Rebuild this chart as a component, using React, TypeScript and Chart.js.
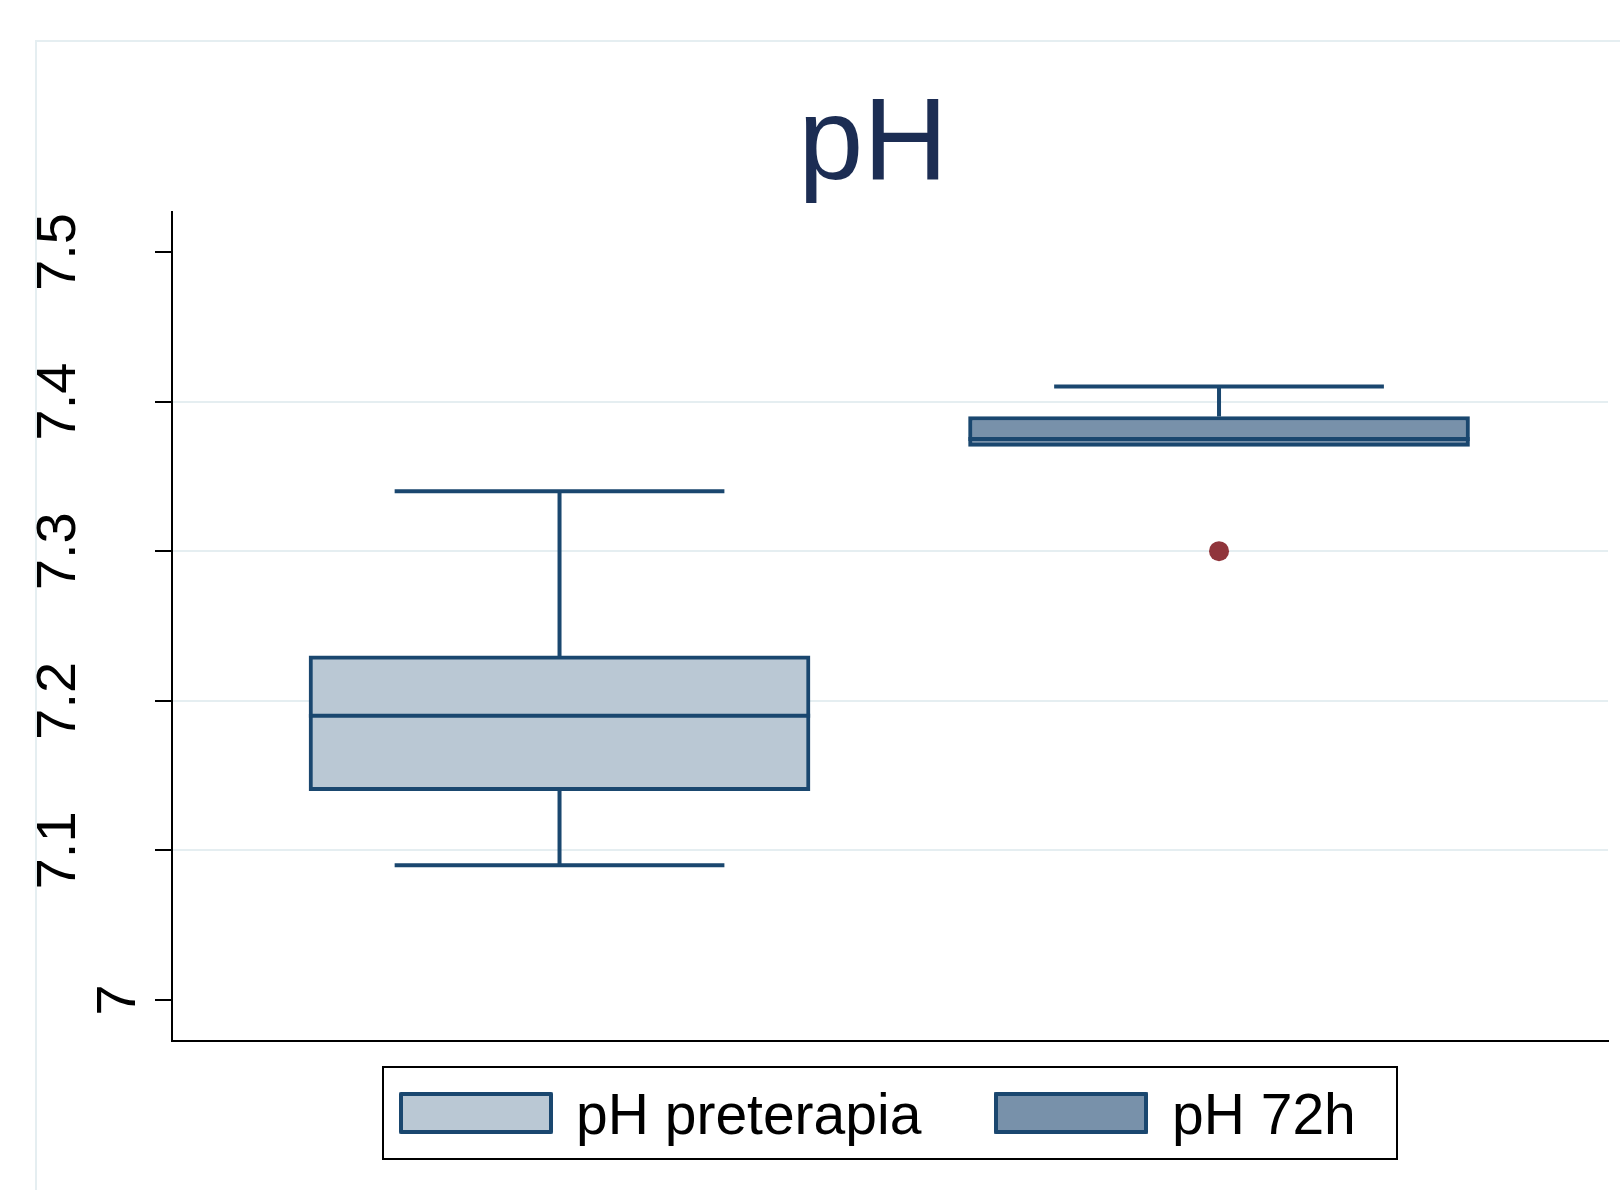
import { useEffect, useRef } from "react";
import { Chart, registerables } from "chart.js";

Chart.register(...registerables);

// ---- Data ----
const title = "pH";
const categories = ["pH preterapia", "pH 72h"];
const positions = [0, 1];
const lowerWhisker = [7.09, 7.37];
const q1 = [7.14, 7.37];
const median = [7.19, 7.375];
const q3 = [7.23, 7.39];
const upperWhisker = [7.34, 7.41];
const outlierX = [1];
const outlierY = [7.3];
const yTicks = [7, 7.1, 7.2, 7.3, 7.4, 7.5];
const yTickLabels = ["7", "7.1", "7.2", "7.3", "7.4", "7.5"];

// ---- Style ----
const NAVY = "#1a476f";
const FILLS = ["#bac8d4", "#7891aa"];
const OUTLIER = "#90353b";
const GRID = "#e5eef1";
const TITLE_COLOR = "#1c2d53";
const FONT = "'Liberation Sans', Arial, Helvetica, sans-serif";
const BOX_HALF = 0.38;
const CAP_HALF = 0.25;
const LW = 4;

function buildSegments() {
  const pts: any[] = [];
  const add = (x0: number, y0: number, x1: number, y1: number) => {
    pts.push({ x: x0, y: y0 }, { x: x1, y: y1 }, { x: x1, y: null });
  };
  positions.forEach((p, i) => {
    add(p - BOX_HALF, median[i], p + BOX_HALF, median[i]);
    if (upperWhisker[i] > q3[i]) {
      add(p, q3[i], p, upperWhisker[i]);
      add(p - CAP_HALF, upperWhisker[i], p + CAP_HALF, upperWhisker[i]);
    }
    if (lowerWhisker[i] < q1[i]) {
      add(p, q1[i], p, lowerWhisker[i]);
      add(p - CAP_HALF, lowerWhisker[i], p + CAP_HALF, lowerWhisker[i]);
    }
  });
  return pts;
}

const decorPlugin = {
  id: "stataDecor",
  beforeDraw(chart: any) {
    const ctx = chart.ctx;
    ctx.save();
    ctx.fillStyle = "#ffffff";
    ctx.fillRect(0, 0, chart.width, chart.height);
    ctx.strokeStyle = GRID;
    ctx.lineWidth = 2;
    ctx.beginPath();
    ctx.moveTo(36, chart.height);
    ctx.lineTo(36, 41);
    ctx.lineTo(chart.width, 41);
    ctx.stroke();
    ctx.restore();
  },
  afterDraw(chart: any) {
    const ctx = chart.ctx;
    const yScale = chart.scales.y;
    ctx.save();
    // Title
    ctx.fillStyle = TITLE_COLOR;
    ctx.font = `117px ${FONT}`;
    ctx.textAlign = "center";
    ctx.textBaseline = "alphabetic";
    ctx.fillText(title, 873, 179);

    // Rotated y tick labels
    ctx.fillStyle = "#000";
    ctx.font = `56px ${FONT}`;
    yTicks.forEach((v, i) => {
      const label = yTickLabels[i];
      const y = yScale.getPixelForValue(v);
      const w = ctx.measureText(label).width;
      const bx = 174.6 - 1.274 * w;
      ctx.save();
      ctx.translate(bx, y);
      ctx.rotate(-Math.PI / 2);
      ctx.textAlign = "center";
      ctx.textBaseline = "alphabetic";
      ctx.fillText(label, 0, 0);
      ctx.restore();
    });

    // Legend
    ctx.strokeStyle = "#000";
    ctx.lineWidth = 2;
    ctx.strokeRect(383, 1067, 1397 - 383, 1159 - 1067);
    const keyX = [399, 994];
    const textX = [576, 1172];
    ctx.font = `57px ${FONT}`;
    ctx.textAlign = "left";
    ctx.textBaseline = "alphabetic";
    categories.forEach((c, i) => {
      ctx.fillStyle = FILLS[i];
      ctx.fillRect(keyX[i], 1092, 154, 42);
      ctx.strokeStyle = NAVY;
      ctx.lineWidth = LW;
      ctx.lineJoin = "round";
      ctx.strokeRect(keyX[i] + LW / 2, 1092 + LW / 2, 154 - LW, 42 - LW);
      ctx.fillStyle = "#000";
      ctx.fillText(c, textX[i], 1134);
    });
    ctx.restore();
  },
};

export default function App() {
  const ref = useRef<HTMLCanvasElement | null>(null);
  useEffect(() => {
    document.body.style.margin = "0";
    const canvas = ref.current;
    if (!canvas) return;
    const chart = new Chart(canvas, {
      type: "bar",
      data: {
        datasets: [
          {
            type: "line",
            data: buildSegments(),
            borderColor: NAVY,
            borderWidth: LW,
            borderCapStyle: "butt",
            pointRadius: 0,
            pointHoverRadius: 0,
            spanGaps: false,
            tension: 0,
            fill: false,
          } as any,
          {
            type: "scatter",
            data: outlierX.map((x, i) => ({ x, y: outlierY[i] })),
            backgroundColor: OUTLIER,
            borderWidth: 0,
            pointRadius: 10,
            pointHoverRadius: 10,
          } as any,
          {
            type: "bar",
            data: positions.map((x, i) => ({ x, y: [q1[i], q3[i]] })),
            backgroundColor: FILLS,
            borderColor: NAVY,
            borderWidth: LW,
            borderSkipped: false,
            barThickness: 501,
          } as any,
        ],
      },
      options: {
        responsive: false,
        animation: false,
        events: [],
        layout: { padding: { left: 155, right: 12, top: 212, bottom: 149 } },
        plugins: {
          legend: { display: false },
          tooltip: { enabled: false },
          title: { display: false },
        },
        scales: {
          x: {
            type: "linear",
            min: -0.5876,
            max: 1.5898,
            offset: false,
            grid: { display: false, drawTicks: false, offset: false },
            border: { display: true, color: "#000", width: 2 },
            ticks: { display: false },
          },
          y: {
            type: "linear",
            min: 6.9726,
            max: 7.5267,
            beginAtZero: false,
            afterBuildTicks: (scale: any) => {
              scale.ticks = yTicks.map((v) => ({ value: v }));
            },
            grid: {
              display: true,
              drawTicks: true,
              tickLength: 17,
              tickWidth: 2,
              tickColor: "#000",
              lineWidth: 2,
              color: (c: any) => {
                const v = c.tick ? c.tick.value : null;
                if (v === null) return "rgba(0,0,0,0)";
                return v > yTicks[0] && v < yTicks[yTicks.length - 1] ? GRID : "rgba(0,0,0,0)";
              },
            },
            border: { display: true, color: "#000", width: 2 },
            ticks: { display: false },
          },
        },
      } as any,
      plugins: [decorPlugin],
    });
    return () => chart.destroy();
  }, []);
  return <canvas ref={ref} width={1620} height={1190} style={{ display: "block" }} />;
}
